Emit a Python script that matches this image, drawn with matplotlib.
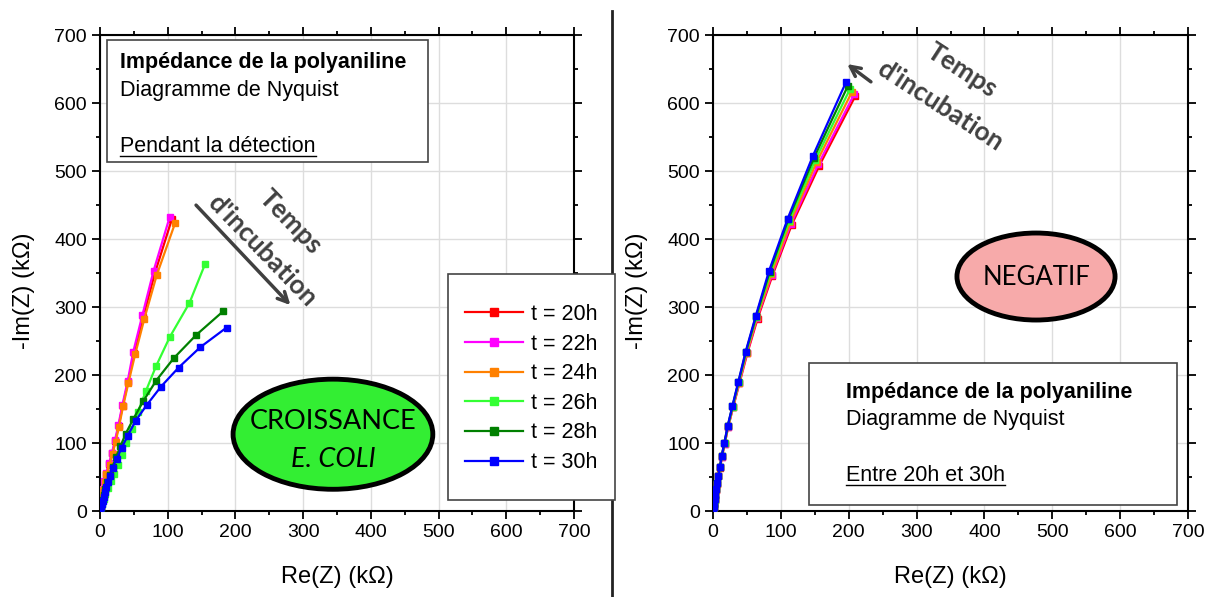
import numpy as np
import matplotlib
matplotlib.use("Agg")
import matplotlib.pyplot as plt
from matplotlib.patches import Ellipse, Rectangle
from matplotlib.lines import Line2D

plt.rcParams['font.family'] = ['Liberation Sans', 'DejaVu Sans']

labels = ['t = 20h', 't = 22h', 't = 24h', 't = 26h', 't = 28h', 't = 30h']
colors = ['#ff0000', '#ff00ff', '#ff8000', '#33ff33', '#008000', '#0000ff']

# pendant la detection (Re, -Im) en kOhm
left_re = [
    [0.4, 1.0, 1.9, 3.1, 4.7, 6.7, 9.2, 13.6, 18.0, 22.5, 27.5, 33.5, 41.4, 50.5, 64.0, 81.0, 106.0],
    [0.4, 1.0, 1.8, 3.0, 4.5, 6.5, 8.9, 13.3, 17.7, 22.0, 27.0, 33.0, 40.8, 49.0, 62.5, 79.0, 103.0],
    [0.4, 1.1, 2.0, 3.3, 5.0, 7.0, 9.5, 14.0, 18.5, 23.0, 28.0, 34.0, 42.0, 52.0, 65.5, 83.7, 111.0],
    [0.6, 1.7, 3.2, 5.3, 8.0, 11.5, 15.5, 20.5, 26.0, 32.0, 39.0, 46.8, 55.7, 67.5, 82.7, 103.0, 132.0, 155.0],
    [0.3, 1.0, 2.0, 3.5, 5.4, 7.8, 10.8, 14.3, 18.5, 23.5, 30.0, 38.0, 49.0, 64.0, 83.0, 109.0, 142.0, 182.0],
    [0.2, 0.6, 1.4, 2.4, 3.7, 5.2, 7.0, 9.0, 11.6, 14.8, 18.7, 24.6, 32.0, 41.0, 52.7, 69.0, 90.0, 116.0, 148.0, 187.0],
]
left_im = [
    [2.7, 7.5, 14, 22, 32, 43, 55, 69, 85, 103, 125, 155, 190, 232, 286, 350, 429],
    [3, 8, 15, 23, 33, 44, 56, 70, 86, 104, 126, 156, 191, 234, 288, 353, 433],
    [2.5, 7, 14, 22, 31, 42, 54, 68, 84, 102, 124, 154, 189, 231, 283, 347, 424],
    [2, 6, 11, 17, 25, 34, 44, 55, 68, 83, 100, 120, 145, 176, 213, 256, 306, 363],
    [1.5, 5, 10, 16, 23, 32, 42, 53, 65, 79, 95, 114, 135, 162, 192, 225, 259, 294],
    [0.8, 2.5, 6, 10, 15, 21, 28, 35, 43, 52, 64, 77, 93, 111, 133, 156, 183, 211, 241, 270],
]

# entre 20h et 30h, sans bacteries
right_re = [
    [0.3, 0.8, 1.5, 2.4, 3.4, 4.6, 6.2, 8.1, 10.6, 13.3, 17.3, 22.5, 29.8, 39.0, 50.6, 65.7, 87.4, 116.0, 156.6, 210.0],
    [0.3, 0.8, 1.5, 2.4, 3.4, 4.6, 6.1, 8.0, 10.5, 13.2, 17.2, 22.4, 29.6, 38.7, 50.0, 65.0, 86.5, 115.0, 155.0, 208.0],
    [0.3, 0.8, 1.5, 2.4, 3.4, 4.6, 6.1, 8.0, 10.5, 13.1, 17.1, 22.2, 29.4, 38.5, 49.7, 64.7, 86.0, 114.0, 153.0, 205.0],
    [0.3, 0.8, 1.5, 2.3, 3.3, 4.5, 6.0, 8.0, 10.4, 13.0, 17.0, 22.0, 29.0, 38.0, 49.0, 64.0, 84.5, 112.5, 151.0, 202.0],
    [0.3, 0.8, 1.5, 2.3, 3.3, 4.5, 6.0, 7.9, 10.3, 12.9, 16.8, 21.8, 28.7, 37.6, 48.5, 63.5, 83.5, 111.0, 149.0, 199.0],
    [0.3, 0.8, 1.5, 2.3, 3.3, 4.5, 6.0, 7.9, 10.3, 12.8, 16.7, 21.6, 28.5, 37.3, 48.0, 63.0, 82.5, 110.0, 147.0, 196.0],
]
right_im = [
    [2, 5.5, 10.5, 16, 23, 31, 40, 51, 64, 80, 99, 124, 153, 188, 232, 283, 346, 421, 508, 611],
    [2, 5.6, 10.6, 16.2, 23.2, 31.2, 40.2, 51.2, 64.2, 80.2, 99.3, 124.2, 153.3, 188.5, 232.5, 284, 347, 423, 510, 613],
    [2, 5.7, 10.7, 16.5, 23.5, 31.5, 40.5, 51.5, 64.5, 80.5, 99.5, 124.5, 153.5, 189, 233, 285, 348.5, 425, 514, 617],
    [2, 5.8, 10.8, 16.7, 23.7, 31.7, 40.7, 51.7, 64.7, 80.7, 99.7, 124.7, 153.7, 189.5, 233.5, 285.5, 350.5, 427, 517, 621],
    [2, 6, 11, 17, 24, 32, 41, 52, 65, 81, 100, 125, 154, 190, 234, 286.5, 352, 429, 520, 626],
    [2, 6, 11, 17, 24, 32, 41, 52, 65, 81, 100, 125, 154, 190, 234, 287, 353, 430, 522, 631],
]

W, H = 1214, 597
fig = plt.figure(figsize=(W / 100, H / 100), dpi=100)
ax1 = fig.add_axes([0.0824, 0.144, 0.3904, 0.797])
ax2 = fig.add_axes([0.5873, 0.144, 0.3913, 0.797])


def style_axis(ax):
    ax.set_xlim(0, 700)
    ax.set_ylim(0, 700)
    ax.set_xticks(np.arange(0, 701, 100))
    ax.set_yticks(np.arange(0, 701, 100))
    ax.set_xticks(np.arange(50, 700, 100), minor=True)
    ax.set_yticks(np.arange(50, 700, 100), minor=True)
    ax.grid(True, which='major', color='#dddddd', lw=1.0, zorder=0)
    ax.set_axisbelow(True)
    ax.tick_params(which='both', direction='out', top=True, right=True,
                   labelsize=14, width=1.3, colors='black')
    ax.tick_params(which='major', length=6)
    ax.tick_params(which='minor', length=3)
    for s in ax.spines.values():
        s.set_linewidth(1.5)
    ax.set_xlabel('Re(Z) (kΩ)', fontsize=17, va='center')
    ax.set_ylabel('-Im(Z) (kΩ)', fontsize=17, va='center')
    ax.xaxis.set_label_coords(0.5, -0.139)
    ax.yaxis.set_label_coords(-0.16, 0.462)


style_axis(ax1)
style_axis(ax2)

for i in range(6):
    ax1.plot(left_re[i], left_im[i], '-s', color=colors[i], lw=1.6, ms=5,
             label=labels[i], zorder=3)
    ax2.plot(right_re[i], right_im[i], '-s', color=colors[i], lw=1.6, ms=5,
             zorder=3)

# info boxes
ax1.add_patch(Rectangle((10, 513), 474, 180, facecolor='white', edgecolor='#444444', lw=1.2, zorder=4))
ax1.text(29.5, 660, 'Impédance de la polyaniline', fontsize=15.5, fontweight='bold', va='center', zorder=5)
ax1.text(29.5, 619, 'Diagramme de Nyquist', fontsize=15.5, va='center', zorder=5)
t1 = ax1.text(29.5, 537, 'Pendant la détection', fontsize=15.5, va='center', zorder=5)

ax2.add_patch(Rectangle((141.5, 9), 542.5, 209, facecolor='white', edgecolor='#444444', lw=1.2, zorder=4))
ax2.text(196, 175, 'Impédance de la polyaniline', fontsize=15.5, fontweight='bold', va='center', zorder=5)
ax2.text(196, 134, 'Diagramme de Nyquist', fontsize=15.5, va='center', zorder=5)
t2 = ax2.text(196, 53, 'Entre 20h et 30h', fontsize=15.5, va='center', zorder=5)

# ellipses
ax1.add_patch(Ellipse((344, 113), 295, 162, facecolor='#33ee33', edgecolor='black', lw=3.5, zorder=4))
ax1.text(344, 131, 'CROISSANCE', fontsize=19.5, family=['Lato', 'DejaVu Sans'], ha='center', va='center', zorder=5)
ax1.text(344, 76, 'E. COLI', fontsize=19.5, style='italic', family=['Lato', 'DejaVu Sans'], ha='center', va='center', zorder=5)

ax2.add_patch(Ellipse((476, 345), 233, 128, facecolor='#f7aaaa', edgecolor='black', lw=3.5, zorder=4))
ax2.text(477, 343, 'NEGATIF', fontsize=18.5, family=['Lato', 'DejaVu Sans'], ha='center', va='center', zorder=5)

# incubation arrows
txt_kw = dict(fontsize=19, fontweight='bold', color='#404040', family=['Lato', 'DejaVu Sans'],
              ha='center', va='center', rotation_mode='anchor', zorder=5)
ax1.text(282, 425, 'Temps', rotation=-46, **txt_kw)
ax1.text(239, 384, "d'incubation", rotation=-46, **txt_kw)
ax1.annotate('', xy=(284, 300), xytext=(139, 453),
             arrowprops=dict(arrowstyle='->', color='#404040', lw=2.5, mutation_scale=18), zorder=5)
ax2.text(367, 649, 'Temps', rotation=-33, **txt_kw)
ax2.text(335, 597, "d'incubation", rotation=-33, **txt_kw)
ax2.annotate('', xy=(194.5, 660), xytext=(236, 629),
             arrowprops=dict(arrowstyle='->', color='#404040', lw=2.5, mutation_scale=18), zorder=5)

# legend, frame drawn separately so it can overlap the right spine
fig.add_artist(Rectangle((448 / W, 1 - 500 / H), 167 / W, 226 / H, transform=fig.transFigure,
                         facecolor='white', edgecolor='#444444', lw=1.2, zorder=8))
leg = fig.legend(loc='upper left', bbox_to_anchor=(465 / W, 1 - 304 / H), fontsize=15.5,
                 frameon=False, handlelength=2.7, handletextpad=0.35, labelspacing=0.4,
                 borderpad=0, borderaxespad=0, markerscale=1.2)
leg.set_zorder(10)

# separator
fig.add_artist(Line2D([612 / W, 612 / W], [0, 1 - 11 / H], color='#222222', lw=2, zorder=2))

# underline
fig.canvas.draw()
r = fig.canvas.get_renderer()
for t in (t1, t2):
    bb = t.get_window_extent(r)
    y = bb.y0 + 1
    fig.add_artist(Line2D([bb.x0 / W, bb.x1 / W], [y / H, y / H], color='black', lw=1.0, zorder=6))

fig.savefig('out.png', dpi=100)
